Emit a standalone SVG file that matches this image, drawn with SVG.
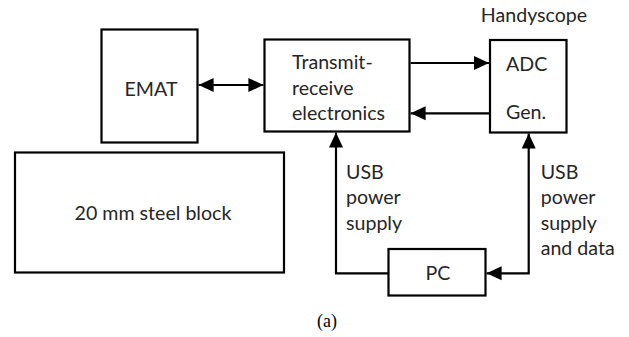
<svg xmlns="http://www.w3.org/2000/svg" width="629" height="337" viewBox="0 0 629 337">
<defs>
<style>
.box{fill:#fff;stroke:#000;stroke-width:2.2}
.t{font-family:Lato,"Liberation Sans",sans-serif;font-size:19.6px;fill:#262626}
.ln{fill:none;stroke:#000;stroke-width:2.2}
.cap{font-family:"Liberation Serif","Times New Roman",serif;font-size:18px;fill:#000}
</style>
<marker id="ah" markerUnits="userSpaceOnUse" markerWidth="16" markerHeight="16" viewBox="0 0 16 16" refX="15" refY="8" orient="auto-start-reverse">
<path d="M0,1 L15,8 L0,15 Z" fill="#000"/>
</marker>
</defs>
<rect width="629" height="337" fill="#fff"/>
<g id="emat">
<rect class="box" x="101.5" y="29.5" width="96" height="113"/>
<text class="t" x="151" y="96" text-anchor="middle">EMAT</text>
</g>
<g id="steel">
<rect class="box" x="15" y="152.5" width="269" height="120"/>
<text class="t" x="153" y="220" text-anchor="middle">20 mm steel block</text>
</g>
<g id="trx">
<rect class="box" x="264.5" y="39.5" width="145" height="92"/>
<text class="t" x="292" y="68.5">Transmit-</text>
<text class="t" x="292" y="94.5">receive</text>
<text class="t" x="292" y="120">electronics</text>
</g>
<g id="handyscope">
<text class="t" x="534" y="22" text-anchor="middle">Handyscope</text>
<rect class="box" x="490" y="40" width="76.5" height="92.5"/>
<text class="t" x="506" y="71">ADC</text>
<text class="t" x="506" y="119">Gen.</text>
</g>
<g id="pc">
<rect class="box" x="388.5" y="249" width="97" height="46.5"/>
<text class="t" x="438" y="280" text-anchor="middle">PC</text>
</g>
<g id="connectors">
<line class="ln" x1="198.6" y1="85" x2="263.4" y2="85" marker-start="url(#ah)" marker-end="url(#ah)"/>
<line class="ln" x1="410.6" y1="63" x2="489" y2="63" marker-end="url(#ah)"/>
<line class="ln" x1="489" y1="113.3" x2="410.6" y2="113.3" marker-end="url(#ah)"/>
<polyline class="ln" points="388.5,273.3 336,273.3 336,132.6" marker-end="url(#ah)"/>
<polyline class="ln" points="528.7,133.6 528.7,273.3 486.6,273.3" marker-start="url(#ah)" marker-end="url(#ah)"/>
</g>
<g id="labels">
<text class="t" x="346" y="178.5">USB</text>
<text class="t" x="346" y="204">power</text>
<text class="t" x="346" y="229.5">supply</text>
<text class="t" x="540.7" y="178.5">USB</text>
<text class="t" x="540.7" y="204">power</text>
<text class="t" x="540.7" y="229.5">supply</text>
<text class="t" x="540.7" y="255">and data</text>
<text class="cap" x="317" y="327">(a)</text>
</g>
</svg>
